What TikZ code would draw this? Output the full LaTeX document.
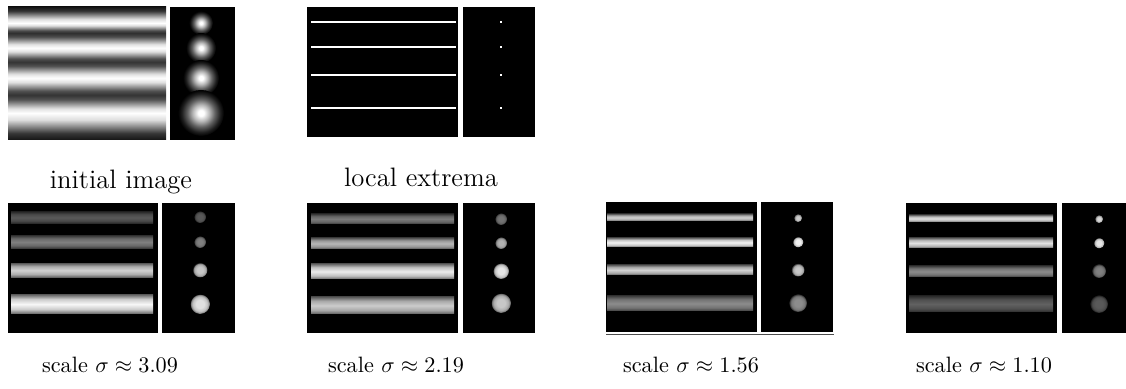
\documentclass[tikz,border=0pt]{standalone}
\pgfdeclareverticalshading{stripes}{100bp}{color(0bp)=(white!8!black); color(25bp)=(white!8!black);
 color(27.54bp)=(white!21!black); color(30.08bp)=(white!54!black); color(32.61bp)=(white!87!black);
 color(35.15bp)=(white); color(36.84bp)=(white!88!black); color(38.53bp)=(white!60!black);
 color(40.23bp)=(white!32!black); color(41.92bp)=(white!20!black); color(43.52bp)=(white!32!black);
 color(45.11bp)=(white!60!black); color(46.71bp)=(white!88!black); color(48.31bp)=(white);
 color(49.81bp)=(white!88!black); color(51.32bp)=(white!60!black); color(52.82bp)=(white!32!black);
 color(54.32bp)=(white!20!black); color(55.64bp)=(white!32!black); color(56.95bp)=(white!60!black);
 color(58.27bp)=(white!88!black); color(59.59bp)=(white); color(61.00bp)=(white!88!black);
 color(62.41bp)=(white!59!black); color(63.82bp)=(white!30!black); color(65.23bp)=(white!18!black);
 color(66.17bp)=(white!30!black); color(67.11bp)=(white!59!black); color(68.05bp)=(white!88!black);
 color(68.98bp)=(white); color(70.49bp)=(white!87!black); color(71.99bp)=(white!54!black);
 color(73.50bp)=(white!21!black); color(75bp)=(white!8!black); color(100bp)=(white!8!black)}
\pgfdeclareradialshading{glow}{\pgfpoint{0bp}{0bp}}{color(0bp)=(white); color(3bp)=(white);
 color(9bp)=(white!72!black); color(15bp)=(white!38!black); color(21bp)=(white!12!black);
 color(25bp)=(black); color(50bp)=(black)}
\colorlet{barc}{white}
\colorlet{dotc}{white}
\pgfdeclareverticalshading[barc]{barshade}{100bp}{color(0bp)=(black); color(25bp)=(barc!45!black);
 color(36bp)=(barc!82!black); color(50bp)=(barc); color(64bp)=(barc!82!black);
 color(75bp)=(barc!45!black); color(100bp)=(black)}
\pgfdeclareradialshading[dotc]{dotshade}{\pgfpoint{0bp}{0bp}}{color(0bp)=(dotc); color(10bp)=(dotc);
 color(19bp)=(dotc!85!black); color(23bp)=(dotc!55!black); color(25bp)=(black); color(50bp)=(black)}
\tikzset{
  panel/.style={fill=black},
  barcol/.code={\colorlet{barc}{white!#1!black}},
  dotcol/.code={\colorlet{dotc}{white!#1!black}},
  bar/.style={barcol=#1, shading=barshade},
  dot/.style={dotcol=#1, shading=dotshade},
  toplabel/.style={anchor=base, font=\large},
  botlabel/.style={anchor=base, font=\normalsize},
  extremum/.style={draw=white, line width=0.6pt}
}
\begin{document}
\begin{tikzpicture}[x=0.45pt,y=-0.45pt]
\useasboundingbox (0,0) rectangle (1126,389);
% ---- initial image
\shade[shading=stripes] (8,7) rectangle (166,140);
\fill[panel] (170,7) rectangle (235,140);
\shade[shading=glow] (201,23) circle (12);
\shade[shading=glow] (201,48) circle (15);
\shade[shading=glow] (201,78) circle (18);
\shade[shading=glow] (201,113) circle (23);
\node[toplabel] (lab1) at (121,189) {initial image};
% ---- local extrema
\fill[panel] (307,7) rectangle (458,137);
\fill[panel] (463,7) rectangle (535,137);
\foreach \yy in {22,47,75,108} {
  \draw[extremum] (311,\yy) -- (456,\yy);
  \fill[white] (500.2,\yy-0.9) rectangle (501.8,\yy+0.9);
}
\node[toplabel] (lab2) at (421,187) {local extrema};
% ---- sigma 3.09
\fill[panel] (8,203) rectangle (158,333);
\fill[panel] (162,203) rectangle (235,333);
\shade[bar=35] (11,211.7) rectangle (153,223.3);
\shade[bar=50] (11,235.7) rectangle (153,248.3);
\shade[bar=82] (11,263.3) rectangle (153,277.3);
\shade[bar=97] (11,295) rectangle (153,313.3);
\shade[dot=35] (200,217) circle (6);
\shade[dot=50] (200,242) circle (6);
\shade[dot=78] (200,270) circle (7.5);
\shade[dot=88] (200,304) circle (10);
\node[botlabel] (lab3) at (110,373) {scale $\sigma\approx3.09$};
% ---- sigma 2.19
\fill[panel] (307,203) rectangle (458,333);
\fill[panel] (463,203) rectangle (535,333);
\shade[bar=48] (311,214) rectangle (454,224);
\shade[bar=72] (311,238) rectangle (454,249);
\shade[bar=92] (311,264) rectangle (454,279);
\shade[bar=80] (311,297) rectangle (454,314);
\shade[dot=45] (501,219) circle (6);
\shade[dot=70] (501,243) circle (6);
\shade[dot=90] (501,271) circle (8);
\shade[dot=78] (501,303) circle (10);
\node[botlabel] (lab4) at (396,373) {scale $\sigma\approx2.19$};
% ---- sigma 1.56
\fill[panel] (606,202) rectangle (757,332);
\fill[panel] (761,202) rectangle (833,332);
\draw[black!70, line width=0.45pt] (606,334.5) -- (834,334.5);
\shade[bar=82] (607,214) rectangle (753,221);
\shade[bar=95] (607,238) rectangle (753,247);
\shade[bar=82] (607,265) rectangle (753,275);
\shade[bar=55] (607,296) rectangle (753,311);
\shade[dot=80] (798,218) circle (4);
\shade[dot=95] (798,242) circle (5.5);
\shade[dot=78] (798,270) circle (6.5);
\shade[dot=55] (798,303) circle (9);
\node[botlabel] (lab5) at (691,373) {scale $\sigma\approx1.56$};
% ---- sigma 1.10
\fill[panel] (906,203) rectangle (1057,333);
\fill[panel] (1062,203) rectangle (1126,333);
\shade[bar=88] (909,215) rectangle (1053,222);
\shade[bar=88] (909,238) rectangle (1053,248);
\shade[bar=55] (909,266) rectangle (1053,277);
\shade[bar=38] (909,296) rectangle (1053,312);
\shade[dot=85] (1099,219) circle (4);
\shade[dot=90] (1099,243) circle (5.5);
\shade[dot=50] (1099,271) circle (7);
\shade[dot=35] (1099,304) circle (9);
\node[botlabel] (lab6) at (984,373) {scale $\sigma\approx1.10$};
\end{tikzpicture}
\end{document}
